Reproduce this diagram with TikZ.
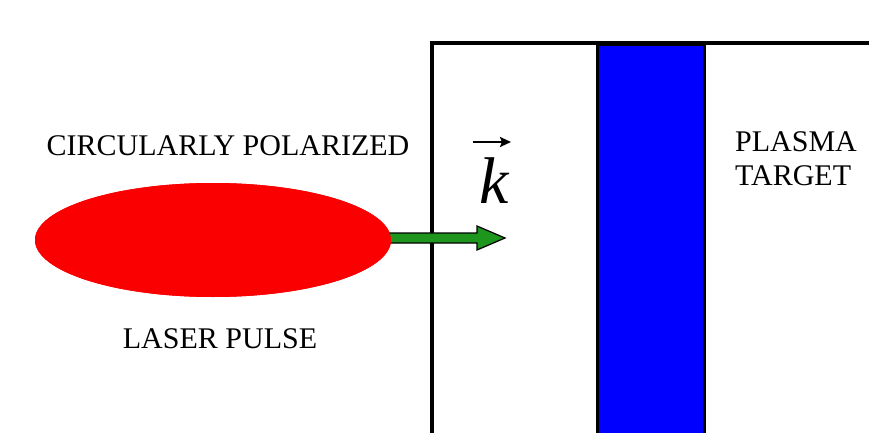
\documentclass[tikz,border=0pt]{standalone}
\usepackage{fontspec}
\setmainfont{Liberation Serif}
\usetikzlibrary{shapes.geometric,arrows.meta,calc}
\definecolor{pulsered}{RGB}{250,0,0}
\definecolor{arrowgreen}{RGB}{30,150,30}
\definecolor{targetblue}{RGB}{0,0,255}
\tikzset{
  label/.style={font=\fontsize{30}{34}\selectfont, inner sep=0pt},
  wall/.style={line width=4pt, black},
  beam/.style={fill=arrowgreen, draw=black, line width=1.2pt, line join=miter},
  pulseshape/.style={ellipse, fill=pulsered, minimum width=356pt, minimum height=114pt, inner sep=0pt},
}
\begin{document}
\begin{tikzpicture}[x=1pt,y=-1pt]
\useasboundingbox (0,0) rectangle (869,433);
% target box
\coordinate (bl) at (432,436);
\coordinate (tl) at (432,43);
\coordinate (tr) at (872,43);
\draw[wall] (bl) -- (tl) -- (tr);
% plasma slab
\node[draw=black, line width=3pt, fill=targetblue, minimum width=107pt, minimum height=400pt, inner sep=0pt] (slab) at (650.5,245) {};
\draw[wall] (tl) -- (tr);
% laser pulse
\node[pulseshape] (pulse) at (213,240) {};
% beam arrow
\coordinate (tip) at (505,238);
\draw[beam] ($(pulse.east |- tip)+(-3,-5)$) -- (477,233) -- (477,226) -- (tip) -- (477,250) -- (477,243) -- ($(pulse.east |- tip)+(-3,5)$) -- cycle;
\node[pulseshape] at (pulse) {};
% k vector
\node[anchor=base, inner sep=0pt, font=\fontsize{66}{72}\selectfont\itshape] (k) at (494,203) {k};
\draw[line width=2.4pt, -{Stealth[length=11pt,width=10pt,inset=2pt]}] (473,142) -- (511,142);
% labels
\node[label, anchor=base] (circ) at (228,155) {CIRCULARLY POLARIZED};
\node[label, anchor=base] (laser) at (220,348) {LASER PULSE};
\node[label, anchor=base west] (plasma) at (735,151) {PLASMA};
\node[label, anchor=base west] (target) at (735,185) {TARGET};
\end{tikzpicture}
\end{document}
